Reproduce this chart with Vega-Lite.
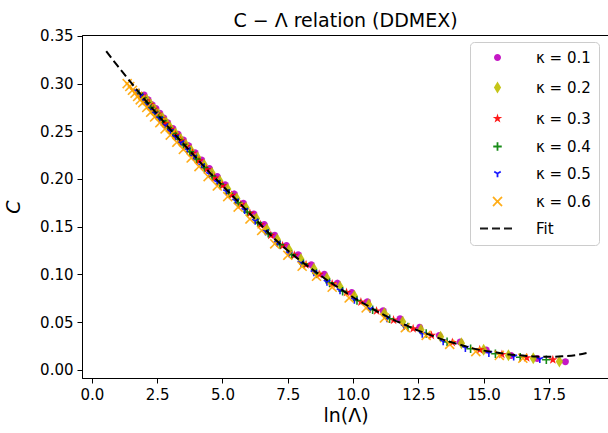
{
  "$schema": "https://vega.github.io/schema/vega-lite/v6.json",
  "width": 527,
  "height": 343,
  "autosize": "none",
  "padding": {"left": 82, "top": 35, "right": 0, "bottom": 55},
  "background": "white",
  "config": {
    "font": "DejaVu Sans",
    "view": {"stroke": "black", "strokeWidth": 1},
    "axis": {"grid": false, "domainColor": "black", "tickColor": "black", "labelColor": "black", "titleColor": "black", "labelFontSize": 15, "titleFontSize": 19, "titleFontWeight": "normal", "tickSize": 5, "labelPadding": 4}
  },
  "title": {"text": "C − Λ relation (DDMEX)", "fontSize": 19, "fontWeight": "normal", "color": "black", "offset": 1, "dy": 3},
  "datasets": {
    "pts": [
      {"s":"κ = 0.1","x":2.0,"y":0.288},{"s":"κ = 0.1","x":2.15,"y":0.283},{"s":"κ = 0.1","x":2.3,"y":0.278},{"s":"κ = 0.1","x":2.45,"y":0.274},{"s":"κ = 0.1","x":2.6,"y":0.269},{"s":"κ = 0.1","x":2.75,"y":0.264},{"s":"κ = 0.1","x":2.9,"y":0.259},{"s":"κ = 0.1","x":3.1,"y":0.253},{"s":"κ = 0.1","x":3.3,"y":0.247},{"s":"κ = 0.1","x":3.5,"y":0.241},{"s":"κ = 0.1","x":3.7,"y":0.235},{"s":"κ = 0.1","x":3.95,"y":0.2275},{"s":"κ = 0.1","x":4.2,"y":0.220},{"s":"κ = 0.1","x":4.5,"y":0.211},{"s":"κ = 0.1","x":4.8,"y":0.2026},{"s":"κ = 0.1","x":5.1,"y":0.194},{"s":"κ = 0.1","x":5.45,"y":0.1844},{"s":"κ = 0.1","x":5.8,"y":0.1746},{"s":"κ = 0.1","x":6.2,"y":0.1634},{"s":"κ = 0.1","x":6.6,"y":0.1522},{"s":"κ = 0.1","x":7.0,"y":0.141},{"s":"κ = 0.1","x":7.45,"y":0.1302},{"s":"κ = 0.1","x":7.9,"y":0.1206},{"s":"κ = 0.1","x":8.4,"y":0.110},{"s":"κ = 0.1","x":8.9,"y":0.100},{"s":"κ = 0.1","x":9.4,"y":0.0908},{"s":"κ = 0.1","x":9.95,"y":0.0809},{"s":"κ = 0.1","x":10.55,"y":0.0712},{"s":"κ = 0.1","x":11.15,"y":0.0619},{"s":"κ = 0.1","x":11.8,"y":0.0534},{"s":"κ = 0.1","x":12.55,"y":0.0445},{"s":"κ = 0.1","x":13.3,"y":0.036},{"s":"κ = 0.1","x":14.1,"y":0.029},{"s":"κ = 0.1","x":15.1,"y":0.0206},{"s":"κ = 0.1","x":16.05,"y":0.0149},{"s":"κ = 0.1","x":17.05,"y":0.0118},{"s":"κ = 0.1","x":18.13,"y":0.0084},
      {"s":"κ = 0.2","x":2.1,"y":0.283},{"s":"κ = 0.2","x":2.25,"y":0.278},{"s":"κ = 0.2","x":2.4,"y":0.273},{"s":"κ = 0.2","x":2.55,"y":0.268},{"s":"κ = 0.2","x":2.7,"y":0.264},{"s":"κ = 0.2","x":2.85,"y":0.259},{"s":"κ = 0.2","x":3.0,"y":0.254},{"s":"κ = 0.2","x":3.2,"y":0.248},{"s":"κ = 0.2","x":3.4,"y":0.242},{"s":"κ = 0.2","x":3.6,"y":0.236},{"s":"κ = 0.2","x":3.8,"y":0.230},{"s":"κ = 0.2","x":4.05,"y":0.2225},{"s":"κ = 0.2","x":4.3,"y":0.215},{"s":"κ = 0.2","x":4.6,"y":0.2062},{"s":"κ = 0.2","x":4.9,"y":0.1978},{"s":"κ = 0.2","x":5.2,"y":0.1894},{"s":"κ = 0.2","x":5.55,"y":0.1796},{"s":"κ = 0.2","x":5.9,"y":0.1698},{"s":"κ = 0.2","x":6.3,"y":0.1586},{"s":"κ = 0.2","x":6.7,"y":0.1474},{"s":"κ = 0.2","x":7.1,"y":0.1366},{"s":"κ = 0.2","x":7.55,"y":0.1259},{"s":"κ = 0.2","x":8.0,"y":0.116},{"s":"κ = 0.2","x":8.5,"y":0.106},{"s":"κ = 0.2","x":9.0,"y":0.096},{"s":"κ = 0.2","x":9.5,"y":0.087},{"s":"κ = 0.2","x":10.05,"y":0.0772},{"s":"κ = 0.2","x":10.6,"y":0.0684},{"s":"κ = 0.2","x":11.2,"y":0.0592},{"s":"κ = 0.2","x":11.9,"y":0.0502},{"s":"κ = 0.2","x":12.6,"y":0.042},{"s":"κ = 0.2","x":13.35,"y":0.0345},{"s":"κ = 0.2","x":14.15,"y":0.0278},{"s":"κ = 0.2","x":15.0,"y":0.021},{"s":"κ = 0.2","x":15.95,"y":0.0152},{"s":"κ = 0.2","x":16.9,"y":0.012},{"s":"κ = 0.2","x":17.9,"y":0.0087},
      {"s":"κ = 0.3","x":1.9,"y":0.287},{"s":"κ = 0.3","x":2.05,"y":0.282},{"s":"κ = 0.3","x":2.2,"y":0.278},{"s":"κ = 0.3","x":2.35,"y":0.273},{"s":"κ = 0.3","x":2.5,"y":0.268},{"s":"κ = 0.3","x":2.65,"y":0.263},{"s":"κ = 0.3","x":2.8,"y":0.258},{"s":"κ = 0.3","x":3.0,"y":0.252},{"s":"κ = 0.3","x":3.2,"y":0.246},{"s":"κ = 0.3","x":3.4,"y":0.240},{"s":"κ = 0.3","x":3.6,"y":0.234},{"s":"κ = 0.3","x":3.85,"y":0.227},{"s":"κ = 0.3","x":4.1,"y":0.219},{"s":"κ = 0.3","x":4.4,"y":0.210},{"s":"κ = 0.3","x":4.7,"y":0.201},{"s":"κ = 0.3","x":5.0,"y":0.193},{"s":"κ = 0.3","x":5.35,"y":0.183},{"s":"κ = 0.3","x":5.7,"y":0.173},{"s":"κ = 0.3","x":6.05,"y":0.164},{"s":"κ = 0.3","x":6.45,"y":0.152},{"s":"κ = 0.3","x":6.85,"y":0.141},{"s":"κ = 0.3","x":7.3,"y":0.130},{"s":"κ = 0.3","x":7.75,"y":0.120},{"s":"κ = 0.3","x":8.2,"y":0.110},{"s":"κ = 0.3","x":8.7,"y":0.100},{"s":"κ = 0.3","x":9.2,"y":0.090},{"s":"κ = 0.3","x":9.75,"y":0.081},{"s":"κ = 0.3","x":10.3,"y":0.071},{"s":"κ = 0.3","x":10.9,"y":0.0616},{"s":"κ = 0.3","x":11.55,"y":0.052},{"s":"κ = 0.3","x":12.3,"y":0.043},{"s":"κ = 0.3","x":13.0,"y":0.036},{"s":"κ = 0.3","x":13.8,"y":0.0286},{"s":"κ = 0.3","x":14.85,"y":0.0209},{"s":"κ = 0.3","x":15.7,"y":0.016},{"s":"κ = 0.3","x":16.65,"y":0.0125},{"s":"κ = 0.3","x":17.65,"y":0.0104},
      {"s":"κ = 0.4","x":1.8,"y":0.290},{"s":"κ = 0.4","x":1.95,"y":0.285},{"s":"κ = 0.4","x":2.1,"y":0.280},{"s":"κ = 0.4","x":2.25,"y":0.275},{"s":"κ = 0.4","x":2.4,"y":0.270},{"s":"κ = 0.4","x":2.55,"y":0.265},{"s":"κ = 0.4","x":2.7,"y":0.261},{"s":"κ = 0.4","x":2.9,"y":0.254},{"s":"κ = 0.4","x":3.1,"y":0.248},{"s":"κ = 0.4","x":3.3,"y":0.242},{"s":"κ = 0.4","x":3.5,"y":0.236},{"s":"κ = 0.4","x":3.75,"y":0.2285},{"s":"κ = 0.4","x":4.0,"y":0.221},{"s":"κ = 0.4","x":4.3,"y":0.212},{"s":"κ = 0.4","x":4.6,"y":0.2032},{"s":"κ = 0.4","x":4.9,"y":0.1948},{"s":"κ = 0.4","x":5.25,"y":0.185},{"s":"κ = 0.4","x":5.6,"y":0.1752},{"s":"κ = 0.4","x":5.95,"y":0.1654},{"s":"κ = 0.4","x":6.35,"y":0.1542},{"s":"κ = 0.4","x":6.75,"y":0.143},{"s":"κ = 0.4","x":7.2,"y":0.1312},{"s":"κ = 0.4","x":7.65,"y":0.1207},{"s":"κ = 0.4","x":8.1,"y":0.111},{"s":"κ = 0.4","x":8.6,"y":0.101},{"s":"κ = 0.4","x":9.1,"y":0.0912},{"s":"κ = 0.4","x":9.6,"y":0.0822},{"s":"κ = 0.4","x":10.15,"y":0.0726},{"s":"κ = 0.4","x":10.75,"y":0.063},{"s":"κ = 0.4","x":11.4,"y":0.0534},{"s":"κ = 0.4","x":12.1,"y":0.0448},{"s":"κ = 0.4","x":12.8,"y":0.038},{"s":"κ = 0.4","x":13.6,"y":0.0292},{"s":"κ = 0.4","x":14.5,"y":0.022},{"s":"κ = 0.4","x":15.45,"y":0.0167},{"s":"κ = 0.4","x":16.4,"y":0.013},{"s":"κ = 0.4","x":17.4,"y":0.0104},
      {"s":"κ = 0.5","x":1.7,"y":0.292},{"s":"κ = 0.5","x":1.85,"y":0.287},{"s":"κ = 0.5","x":2.0,"y":0.282},{"s":"κ = 0.5","x":2.15,"y":0.277},{"s":"κ = 0.5","x":2.3,"y":0.272},{"s":"κ = 0.5","x":2.45,"y":0.268},{"s":"κ = 0.5","x":2.6,"y":0.263},{"s":"κ = 0.5","x":2.8,"y":0.256},{"s":"κ = 0.5","x":3.0,"y":0.250},{"s":"κ = 0.5","x":3.2,"y":0.244},{"s":"κ = 0.5","x":3.4,"y":0.238},{"s":"κ = 0.5","x":3.65,"y":0.2305},{"s":"κ = 0.5","x":3.9,"y":0.223},{"s":"κ = 0.5","x":4.2,"y":0.214},{"s":"κ = 0.5","x":4.5,"y":0.205},{"s":"κ = 0.5","x":4.8,"y":0.1966},{"s":"κ = 0.5","x":5.15,"y":0.1868},{"s":"κ = 0.5","x":5.5,"y":0.177},{"s":"κ = 0.5","x":5.85,"y":0.1672},{"s":"κ = 0.5","x":6.25,"y":0.156},{"s":"κ = 0.5","x":6.65,"y":0.1448},{"s":"κ = 0.5","x":7.1,"y":0.1326},{"s":"κ = 0.5","x":7.55,"y":0.1219},{"s":"κ = 0.5","x":8.0,"y":0.112},{"s":"κ = 0.5","x":8.5,"y":0.102},{"s":"κ = 0.5","x":9.0,"y":0.092},{"s":"κ = 0.5","x":9.5,"y":0.083},{"s":"κ = 0.5","x":10.05,"y":0.0732},{"s":"κ = 0.5","x":10.65,"y":0.0636},{"s":"κ = 0.5","x":11.3,"y":0.0538},{"s":"κ = 0.5","x":11.95,"y":0.0456},{"s":"κ = 0.5","x":12.65,"y":0.0375},{"s":"κ = 0.5","x":13.45,"y":0.0295},{"s":"κ = 0.5","x":14.3,"y":0.0226},{"s":"κ = 0.5","x":15.2,"y":0.0172},{"s":"κ = 0.5","x":16.15,"y":0.0136},{"s":"κ = 0.5","x":17.15,"y":0.011},
      {"s":"κ = 0.6","x":1.35,"y":0.300},{"s":"κ = 0.6","x":1.45,"y":0.297},{"s":"κ = 0.6","x":1.55,"y":0.293},{"s":"κ = 0.6","x":1.65,"y":0.290},{"s":"κ = 0.6","x":1.75,"y":0.2865},{"s":"κ = 0.6","x":1.85,"y":0.283},{"s":"κ = 0.6","x":1.95,"y":0.280},{"s":"κ = 0.6","x":2.1,"y":0.275},{"s":"κ = 0.6","x":2.25,"y":0.270},{"s":"κ = 0.6","x":2.4,"y":0.265},{"s":"κ = 0.6","x":2.6,"y":0.259},{"s":"κ = 0.6","x":2.8,"y":0.2525},{"s":"κ = 0.6","x":3.0,"y":0.246},{"s":"κ = 0.6","x":3.25,"y":0.2385},{"s":"κ = 0.6","x":3.5,"y":0.231},{"s":"κ = 0.6","x":3.8,"y":0.222},{"s":"κ = 0.6","x":4.1,"y":0.213},{"s":"κ = 0.6","x":4.45,"y":0.2025},{"s":"κ = 0.6","x":4.8,"y":0.1926},{"s":"κ = 0.6","x":5.2,"y":0.1815},{"s":"κ = 0.6","x":5.6,"y":0.1705},{"s":"κ = 0.6","x":6.05,"y":0.158},{"s":"κ = 0.6","x":6.5,"y":0.146},{"s":"κ = 0.6","x":7.0,"y":0.132},{"s":"κ = 0.6","x":7.5,"y":0.120},{"s":"κ = 0.6","x":8.05,"y":0.1085},{"s":"κ = 0.6","x":8.6,"y":0.098},{"s":"κ = 0.6","x":9.2,"y":0.0865},{"s":"κ = 0.6","x":9.85,"y":0.0752},{"s":"κ = 0.6","x":10.5,"y":0.0648},{"s":"κ = 0.6","x":11.2,"y":0.0542},{"s":"κ = 0.6","x":12.0,"y":0.044},{"s":"κ = 0.6","x":12.8,"y":0.036},{"s":"κ = 0.6","x":13.7,"y":0.0266},{"s":"κ = 0.6","x":14.7,"y":0.019},{"s":"κ = 0.6","x":15.6,"y":0.015},{"s":"κ = 0.6","x":16.5,"y":0.012}
    ],
    "fit": [
      {"x":0.55,"y":0.334},{"x":1,"y":0.318},{"x":1.5,"y":0.301},{"x":2,"y":0.284},{"x":2.5,"y":0.268},{"x":3,"y":0.252},{"x":3.5,"y":0.237},{"x":4,"y":0.222},{"x":4.5,"y":0.207},{"x":5,"y":0.193},{"x":5.5,"y":0.179},{"x":6,"y":0.165},{"x":6.5,"y":0.151},{"x":7,"y":0.137},{"x":7.5,"y":0.125},{"x":8,"y":0.114},{"x":8.5,"y":0.104},{"x":9,"y":0.094},{"x":9.5,"y":0.085},{"x":10,"y":0.076},{"x":10.5,"y":0.068},{"x":11,"y":0.060},{"x":11.5,"y":0.053},{"x":12,"y":0.047},{"x":12.5,"y":0.041},{"x":13,"y":0.036},{"x":13.5,"y":0.031},{"x":14,"y":0.027},{"x":14.5,"y":0.023},{"x":15,"y":0.020},{"x":15.5,"y":0.018},{"x":16,"y":0.016},{"x":16.5,"y":0.0148},{"x":17,"y":0.0138},{"x":17.5,"y":0.0136},{"x":18,"y":0.014},{"x":18.5,"y":0.0152},{"x":18.94,"y":0.0175}
    ]
  },
  "layer": [
    {
      "data": {"name": "pts"},
      "mark": {"type": "point", "filled": true, "opacity": 0.9, "strokeWidth": 1.6, "size": 100, "clip": true},
      "encoding": {
        "x": {"field": "x", "type": "quantitative", "scale": {"domain": [-0.38, 19.8], "nice": false, "zero": false},
              "axis": {"title": "ln(Λ)", "values": [0, 2.5, 5, 7.5, 10, 12.5, 15, 17.5], "format": ".1f", "titlePadding": 4}},
        "y": {"field": "y", "type": "quantitative", "scale": {"domain": [-0.0087, 0.351], "nice": false, "zero": false},
              "axis": {"title": "C", "titleFontStyle": "italic", "values": [0, 0.05, 0.1, 0.15, 0.2, 0.25, 0.3, 0.35], "format": ".2f", "titlePadding": 16}},
        "color": {"field": "s", "type": "nominal",
          "scale": {"domain": ["κ = 0.1","κ = 0.2","κ = 0.3","κ = 0.4","κ = 0.5","κ = 0.6","Fit"],
                    "range": ["#bf00bf","#bfbf00","#ff0000","#008000","#0000ff","#ffa500","#000000"]},
          "legend": {"title": null, "orient": "none", "legendX": 388, "legendY": 7, "labelFontSize": 15, "labelColor": "black", "symbolSize": 100, "symbolOffset": 12, "labelOffset": 31, "padding": 8, "rowPadding": 11, "strokeColor": "#cccccc", "fillColor": "white", "cornerRadius": 4, "symbolStrokeWidth": 1.8, "symbolOpacity": 0.9,
            "encode": {"symbols": {"update": {"strokeDash": {"scale": "strokeDash", "field": "value"}}}}}},
        "stroke": {"field": "s", "type": "nominal",
          "scale": {"domain": ["κ = 0.1","κ = 0.2","κ = 0.3","κ = 0.4","κ = 0.5","κ = 0.6","Fit"],
                    "range": ["transparent","transparent","transparent","#008000","#0000ff","#ffa500","#000000"]}},
        "shape": {"field": "s", "type": "nominal",
          "scale": {"domain": ["κ = 0.1","κ = 0.2","κ = 0.3","κ = 0.4","κ = 0.5","κ = 0.6","Fit"],
                    "range": [
                      "M0.7,0L0.647,0.268L0.495,0.495L0.268,0.647L0,0.7L-0.268,0.647L-0.495,0.495L-0.647,0.268L-0.7,0L-0.647,-0.268L-0.495,-0.495L-0.268,-0.647L0,-0.7L0.268,-0.647L0.495,-0.495L0.647,-0.268Z",
                      "M0,-1.2L0.72,0L0,1.2L-0.72,0Z",
                      "M0,-1L0.223,-0.307L0.951,-0.309L0.361,0.117L0.588,0.809L0,0.38L-0.588,0.809L-0.361,0.117L-0.951,-0.309L-0.223,-0.307Z",
                      "M-0.85,0L0.85,0M0,-0.85L0,0.85",
                      "M0,0L0,0.75M0,0L-0.65,-0.375M0,0L0.65,-0.375",
                      "M-0.9,-0.9L0.9,0.9M-0.9,0.9L0.9,-0.9",
                      "M-3.5,0L3.5,0"]}},
        "strokeDash": {"field": "s", "type": "nominal",
          "scale": {"domain": ["κ = 0.1","κ = 0.2","κ = 0.3","κ = 0.4","κ = 0.5","κ = 0.6","Fit"],
                    "range": [[1,0],[1,0],[1,0],[1,0],[1,0],[1,0],[8,4]]}}
      }
    },
    {
      "data": {"name": "fit"},
      "mark": {"type": "line", "color": "black", "strokeWidth": 2, "strokeDash": [8, 4], "interpolate": "monotone"},
      "encoding": {
        "x": {"field": "x", "type": "quantitative"},
        "y": {"field": "y", "type": "quantitative"}
      }
    }
  ]
}
